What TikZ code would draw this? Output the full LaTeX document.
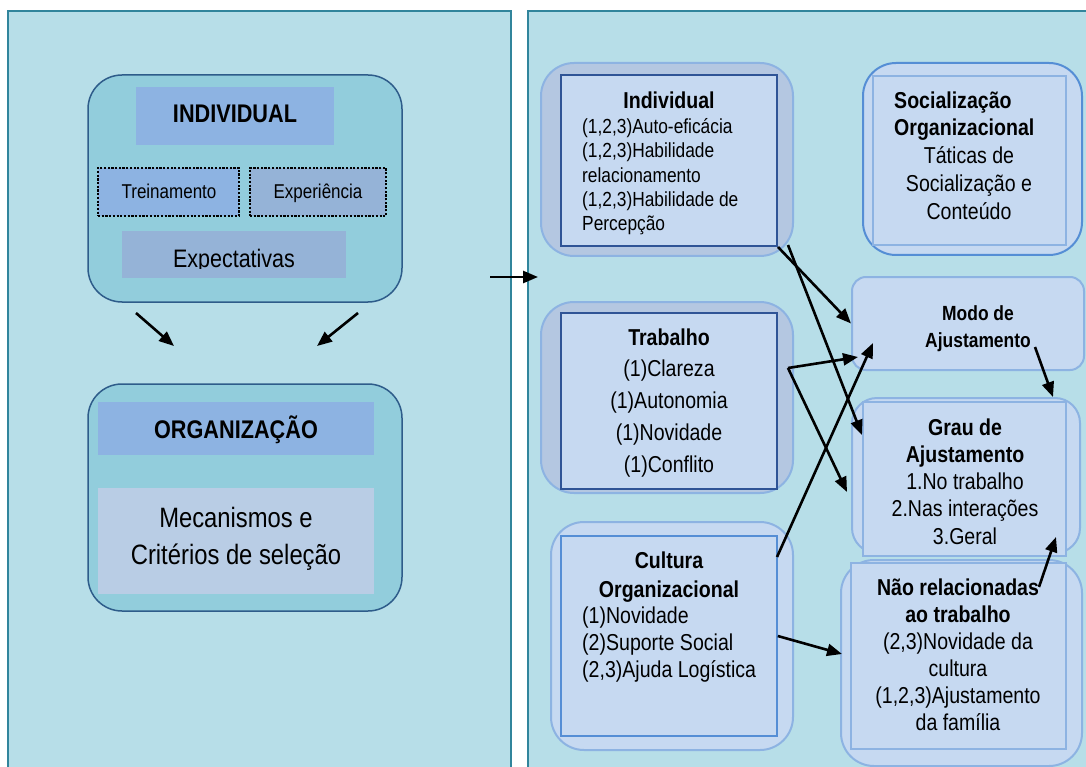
\documentclass[tikz,border=0pt]{standalone}
\usepackage{fontspec}
\setmainfont{Liberation Sans}[FakeStretch=0.85]
\usetikzlibrary{arrows.meta,fit}

\definecolor{panelFill}{HTML}{B7DEE8}
\definecolor{panelLine}{HTML}{31859C}
\definecolor{tealFill}{HTML}{92CDDC}
\definecolor{tealLine}{HTML}{2E5C8A}
\definecolor{headFill}{HTML}{8DB3E2}
\definecolor{greyFill}{HTML}{95B3D7}
\definecolor{mecFill}{HTML}{B9CDE5}
\definecolor{inFill}{HTML}{C6D9F1}
\definecolor{outFill}{HTML}{B4C7E1}
\definecolor{lightLine}{HTML}{8DB3E2}
\definecolor{midLine}{HTML}{558ED5}
\definecolor{darkLine}{HTML}{2F5496}

\tikzset{
  panel/.style={draw=panelLine, fill=panelFill, line width=1.5pt, inner sep=0pt},
  tealbox/.style={draw=tealLine, fill=tealFill, line width=1.5pt, rounded corners=34pt, inner sep=0pt},
  flatbox/.style={fill=#1, inner sep=0pt},
  dotbox/.style={draw=black, fill=#1, line width=2.8pt, dash pattern=on 2.2pt off 1.5pt, inner sep=0pt},
  outbox/.style={draw=lightLine, fill=#1, line width=2pt, rounded corners=33pt, inner sep=0pt},
  inbox/.style={draw=#1, fill=inFill, line width=2pt, inner sep=0pt},
  txt/.style={inner sep=0pt, align=center},
  arr/.style={-{Triangle[length=15pt,width=12pt]}, line width=2.6pt},
}

\begin{document}
\begin{tikzpicture}[x=1pt,y=-1pt]
    \clip (0,0) rectangle (1086,767);

    % Left panel
    \node[panel, fit={(8,11) (511,790)}] (leftPanel) {};

    % Individual
    \node[tealbox, fit={(88,75) (402,302)}] (indBox) {};
    \node[flatbox=headFill, fit={(136,87) (334,145)}] (indHead) {};
    \node[txt, anchor=base, font=\bfseries\fontsize{25.5}{30}\selectfont] (indHeadTxt) at (235,123) {INDIVIDUAL};
    \node[dotbox=headFill, fit={(98,168) (239,216)}] (trein) {};
    \node[txt, anchor=base, font=\fontsize{20}{24}\selectfont] (treinTxt) at (169,199) {Treinamento};
    \node[dotbox=greyFill, fit={(250,168) (386,216)}] (exper) {};
    \node[txt, anchor=base, font=\fontsize{20}{24}\selectfont] (experTxt) at (318,199) {Experiência};
    \node[flatbox=greyFill, fit={(122,231) (346,278)}] (expect) {};
    \begin{scope}
        \clip (122,231) rectangle (346,268);
        \node[txt, anchor=base, font=\fontsize{25.3}{30}\selectfont] (expectTxt) at (234,267) {Expectativas};
    \end{scope}

    % Organizacao
    \node[tealbox, fit={(88,384) (402,611)}] (orgBox) {};
    \node[flatbox=headFill, fit={(98,402) (374,455)}] (orgHead) {};
    \node[txt, anchor=base, font=\bfseries\fontsize{25.5}{30}\selectfont] (orgHeadTxt) at (236,438) {ORGANIZAÇÃO};
    \node[flatbox=mecFill, fit={(98,488) (374,594)}] (mecan) {};
    \node[txt, anchor=north, font=\fontsize{28}{37}\selectfont] (mecanTxt) at (236,507) {Mecanismos e\\Critérios de seleção};

    % Right panel
    \node[panel, fit={(528,11) (1100,790)}] (rightPanel) {};

    % Individual (right)
    \node[outbox=outFill, fit={(541,63) (793,256)}] (indOut) {};
    \node[inbox=darkLine, fit={(561,75) (777,246)}] (indIn) {};
    \node[txt, anchor=north, font=\bfseries\fontsize{23}{27}\selectfont] (indTitle) at (669,91.4) {Individual};
    \node[txt, anchor=north west, align=left, font=\fontsize{20.4}{24.3}\selectfont] (indTxt) at (582,118.3)
        {(1,2,3)Auto-eficácia\\(1,2,3)Habilidade\\relacionamento\\(1,2,3)Habilidade de\\Percepção};

    % Socializacao Organizacional
    \node[outbox=inFill, draw=midLine, fit={(863,63) (1082,255)}] (socOut) {};
    \node[inbox=lightLine, fit={(873,76) (1066,245)}] (socIn) {};
    \node[txt, anchor=north west, align=left, font=\bfseries\fontsize{23}{27}\selectfont] (socTitle) at (894,91.4)
        {Socialização\\Organizacional};
    \node[txt, anchor=north, font=\fontsize{23}{28}\selectfont] (socTxt) at (969,146.4)
        {Táticas de\\Socialização e\\Conteúdo};

    % Modo de Ajustamento
    \node[outbox=inFill, rounded corners=14pt, fit={(852,277) (1084,370)}] (modo) {};
    \node[txt, anchor=north, font=\bfseries\fontsize{20.5}{27}\selectfont] (modoTxt) at (978,305.2)
        {Modo de\\Ajustamento};

    % Trabalho
    \node[outbox=outFill, fit={(541,302) (793,493)}] (trabOut) {};
    \node[inbox=darkLine, fit={(561,313) (777,489)}] (trabIn) {};
    \node[txt, anchor=north, font=\fontsize{23}{31.7}\selectfont] (trabTxt) at (669,328.4)
        {\textbf{Trabalho}\\(1)Clareza\\(1)Autonomia\\(1)Novidade\\(1)Conflito};

    % Grau de Ajustamento
    \node[outbox=inFill, rounded corners=25pt, fit={(852,398) (1080,553)}] (grauOut) {};
    \node[inbox=lightLine, fit={(863,402) (1066,556)}] (grauIn) {};
    \node[txt, anchor=north, font=\fontsize{23}{27.2}\selectfont] (grauTxt) at (965,418.4)
        {\textbf{Grau de}\\\textbf{Ajustamento}\\1.No trabalho\\2.Nas interações\\3.Geral};

    % Cultura Organizacional
    \node[outbox=inFill, fit={(551,522) (793,750)}] (cultOut) {};
    \node[inbox=midLine, line width=1.6pt, fit={(561,536) (777,736)}] (cultIn) {};
    \node[txt, anchor=north, font=\bfseries\fontsize{23}{29}\selectfont] (cultTitle) at (669,551.4)
        {Cultura\\Organizacional};
    \node[txt, anchor=north west, align=left, font=\fontsize{23}{27}\selectfont] (cultTxt) at (582,606.4)
        {(1)Novidade\\(2)Suporte Social\\(2,3)Ajuda Logística};

    % Nao relacionadas ao trabalho
    \node[outbox=inFill, fit={(841,560) (1082,766)}] (naoOut) {};
    \node[inbox=lightLine, fit={(851,563) (1066,749)}] (naoIn) {};
    \node[txt, anchor=north, font=\fontsize{23}{27}\selectfont] (naoTxt) at (958,578.4)
        {\textbf{Não relacionadas}\\\textbf{ao trabalho}\\(2,3)Novidade da\\cultura\\(1,2,3)Ajustamento\\da família};

    % Arrow ends
    \coordinate (l1a) at (136,313);
    \coordinate (l1b) at (174,346);
    \coordinate (l2a) at (358,313);
    \coordinate (l2b) at (317,346);
    \coordinate (midA) at (490,277);
    \coordinate (midB) at (538,277);
    \coordinate (indOff) at (788,245);
    \coordinate (trabOff) at (788,368);
    \coordinate (cultTop) at (777,557);
    \coordinate (grauTipA) at (862,435);
    \coordinate (modoTipB) at (858,357);
    \coordinate (grauTipC) at (847,492);
    \coordinate (modoTipD) at (873,343);
    \coordinate (naoTip) at (842,654);
    \coordinate (modoEnd) at (1035,347);
    \coordinate (grauTop) at (1053,397);
    \coordinate (naoEnd) at (1039,587);
    \coordinate (grauBot) at (1056,537);

    % Arrows
    \draw[arr] (l1a) -- (l1b);
    \draw[arr] (l2a) -- (l2b);
    \draw[arr] (midA) -- (midB);
    \draw[arr] (indIn.south east) -- (modo.west);
    \draw[arr] (indOff) -- (grauTipA);
    \draw[arr] (trabOff) -- (modoTipB);
    \draw[arr] (trabOff) -- (grauTipC);
    \draw[arr] (cultTop) -- (modoTipD);
    \draw[arr] (cultIn.east) -- (naoTip);
    \draw[arr] (modoEnd) -- (grauTop);
    \draw[arr] (naoEnd) -- (grauBot);
\end{tikzpicture}
\end{document}
